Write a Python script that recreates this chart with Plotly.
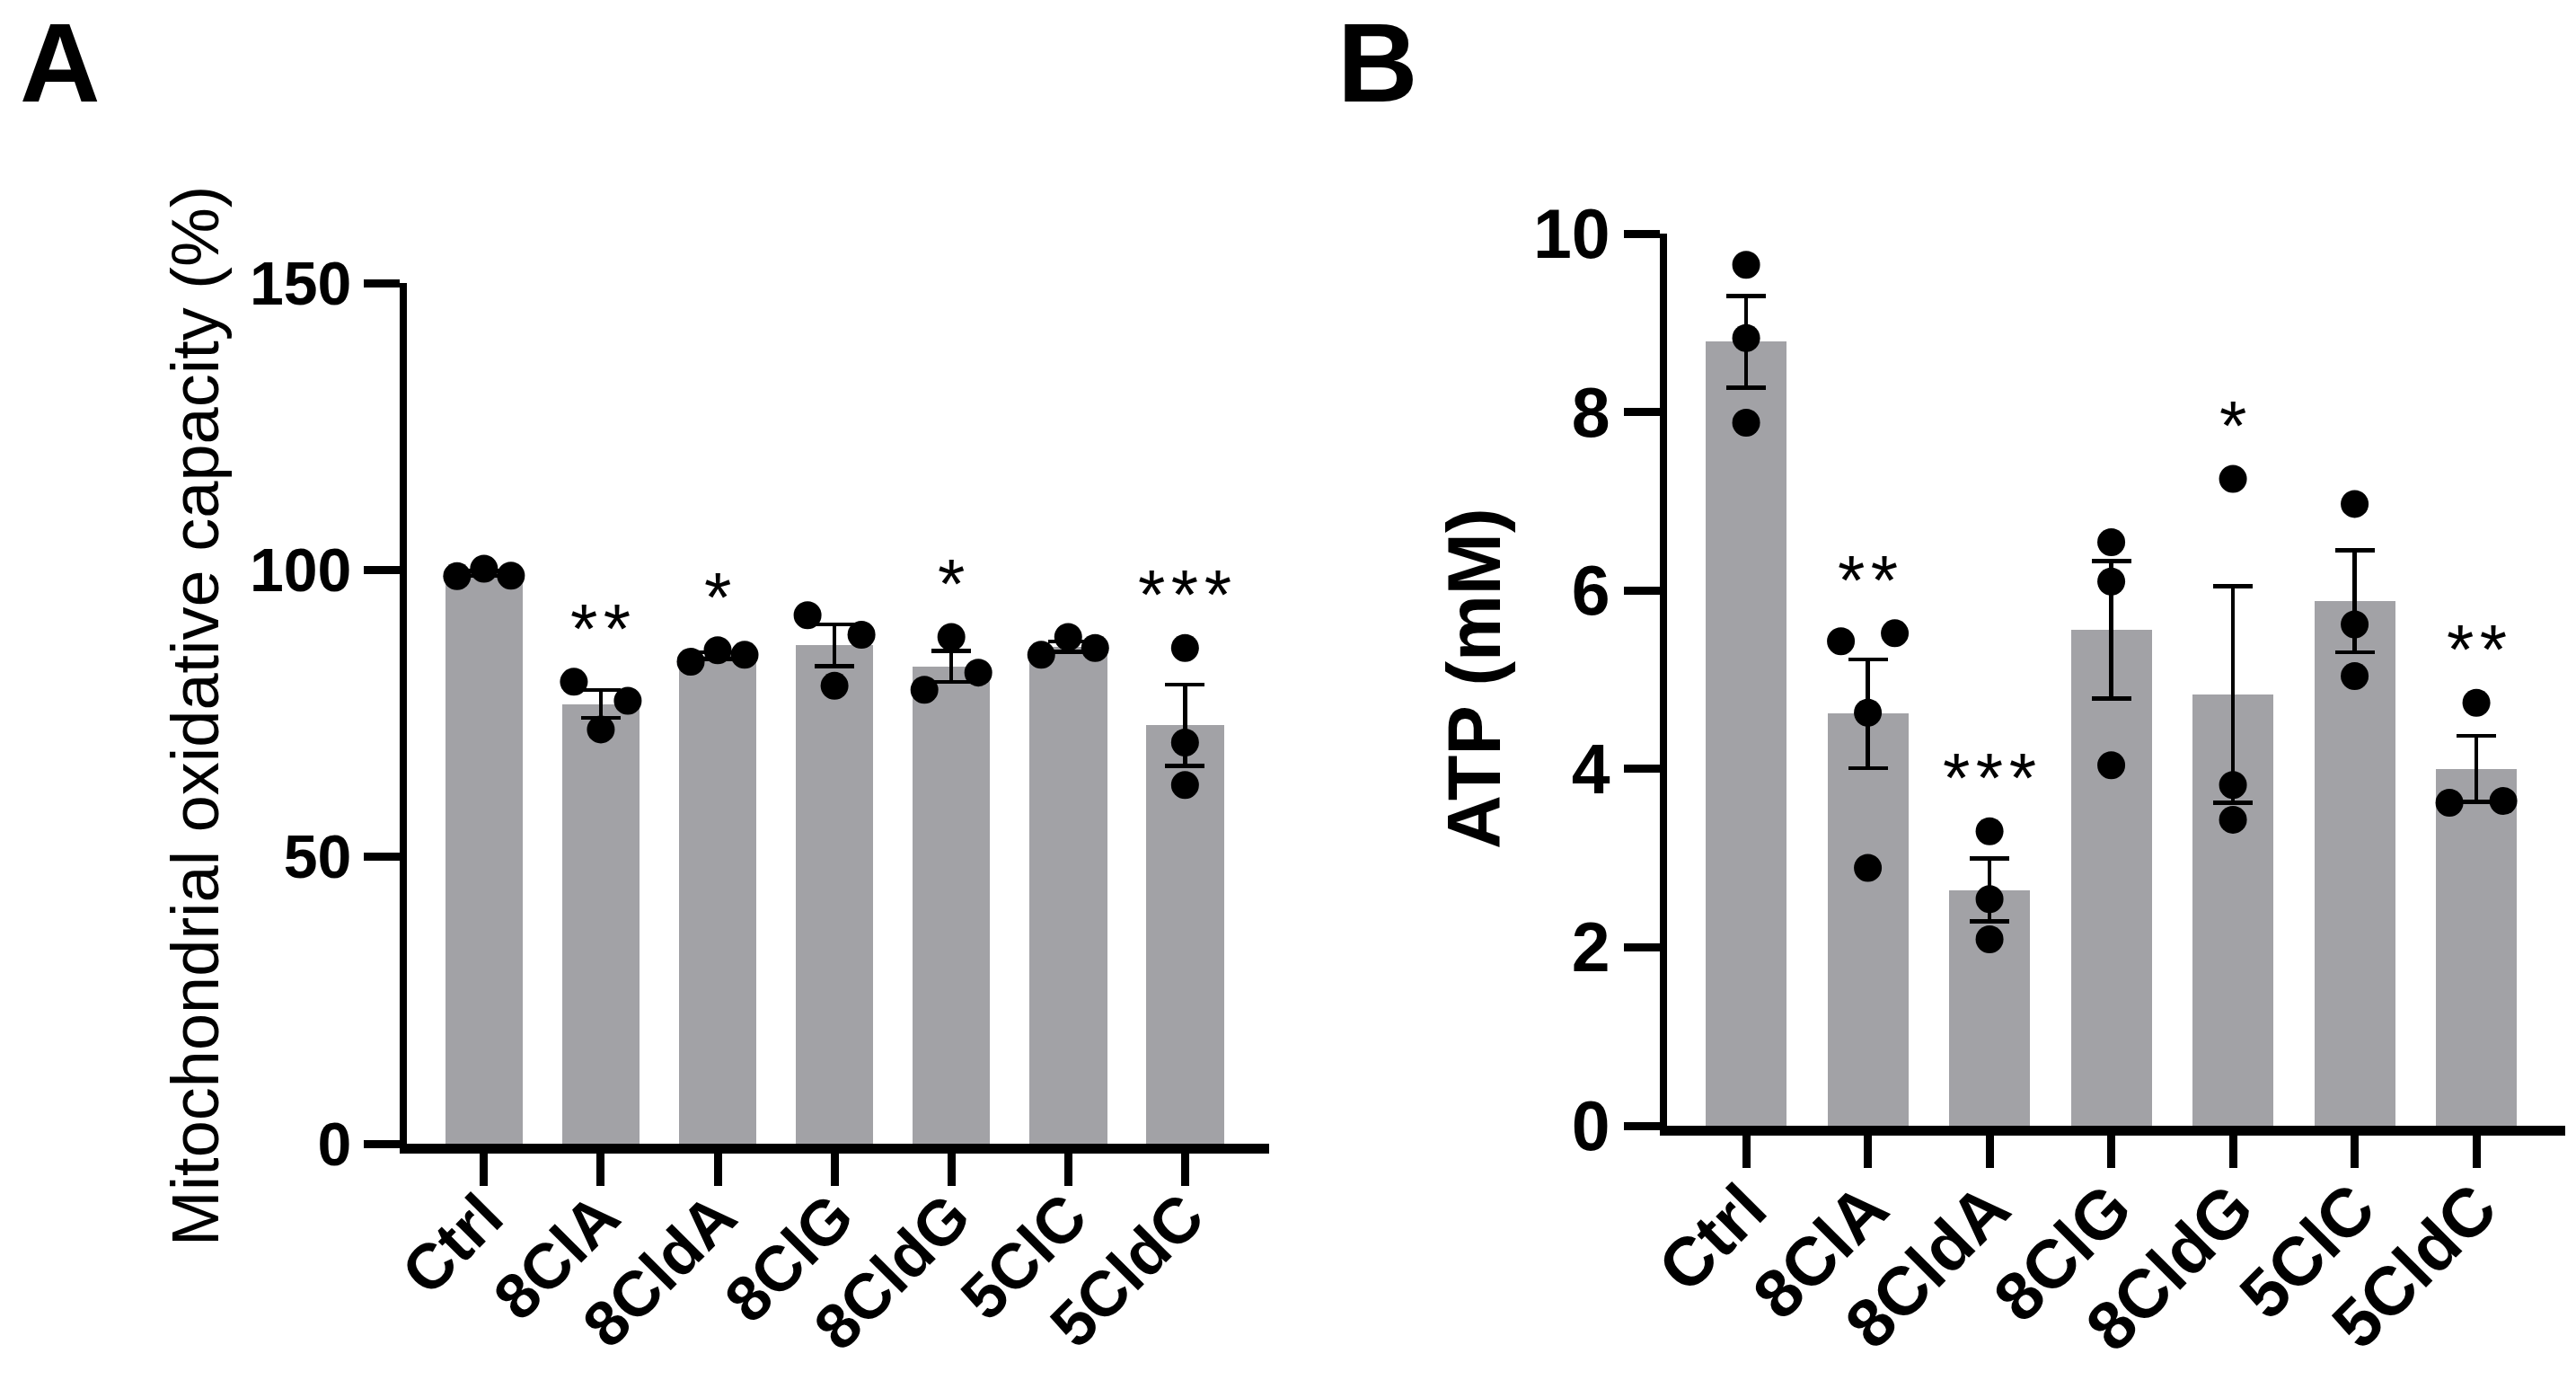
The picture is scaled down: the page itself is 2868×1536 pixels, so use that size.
import numpy as np
import plotly.graph_objects as go

# ---- data ----
groups = ["Ctrl", "8ClA", "8CldA", "8ClG", "8CldG", "5ClC", "5CldC"]

# A: mitochondrial oxidative capacity (%), replicate values per group
ox_points = [
    [98.9, 100.2, 99.0],
    [80.5, 77.2, 72.2],
    [84.0, 86.0, 85.2],
    [92.1, 88.7, 79.8],
    [88.3, 79.1, 82.1],
    [85.2, 88.3, 86.4],
    [86.4, 69.9, 62.5],
]
ox_sig = ["", "**", "*", "", "*", "", "***"]

# B: ATP (mM)
atp_points = [
    [9.65, 8.83, 7.88],
    [5.43, 5.52, 4.63, 2.89],
    [3.30, 2.54, 2.09],
    [6.54, 6.10, 4.04],
    [7.25, 3.82, 3.43],
    [6.97, 5.62, 5.04],
    [4.74, 3.62, 3.64],
]
atp_sig = ["", "**", "***", "", "*", "", "**"]

ox_ticks = [0, 50, 100, 150]
atp_ticks = [0, 2, 4, 6, 8, 10]

# ---- page geometry (px in the 2868x1536 window) ----
W, H = 2868, 1536
FONT = "Liberation Sans, Arial, sans-serif"
GRAY = "#a2a2a6"
DOT = 31  # marker diameter px


def fx(px):
    return px / W


def fy(py):
    return 1 - py / H


def sem(v):
    v = np.asarray(v, dtype=float)
    return v.std(ddof=1) / np.sqrt(len(v))


def swarm(vals, thr, d):
    # prism-like column scatter: points closer than one dot go side by side
    order = sorted(range(len(vals)), key=lambda i: -vals[i])
    rows = []
    for i in order:
        if rows and vals[rows[-1][0]] - vals[i] < thr:
            rows[-1].append(i)
        else:
            rows.append([i])
    off = [0.0] * len(vals)
    for r in rows:
        r = sorted(r)
        n = len(r)
        step = d if n % 2 else 2 * d
        for k, i in enumerate(r):
            off[i] = (k - (n - 1) / 2) * step
    return off


fig = go.Figure()

panels = [
    dict(pts=ox_points, sig=ox_sig, ticks=ox_ticks, xa="x", ya="y",
         xpx=(453, 1413), ypx=(315, 1273), xr=(-0.66, 6.72), yr=(0, 150),
         tsize=68, xsize=71, xstand=-36,
         title="Mitochondrial oxidative capacity (%)", tfont=74,
         tweight="normal", tpos=(217, 797), letter="A", lx=21),
    dict(pts=atp_points, sig=atp_sig, ticks=atp_ticks, xa="x2", ya="y2",
         xpx=(1856, 2856), ypx=(260, 1253), xr=(-0.65, 6.73), yr=(0, 10),
         tsize=77, xsize=76, xstand=-30,
         title="ATP (mM)", tfont=83,
         tweight="bold", tpos=(1642, 755), letter="B", lx=1488),
]

annotations = []
for k, p in enumerate(panels):
    means = [float(np.mean(v)) for v in p["pts"]]
    sems = [float(sem(v)) for v in p["pts"]]
    px_per_x = (p["xpx"][1] - p["xpx"][0]) / (p["xr"][1] - p["xr"][0])
    px_per_y = (p["ypx"][1] - p["ypx"][0]) / (p["yr"][1] - p["yr"][0])

    fig.add_trace(go.Bar(
        x=list(range(len(groups))), y=means, width=0.665,
        marker=dict(color=GRAY, line=dict(width=0)),
        error_y=dict(type="data", array=sems, color="black", thickness=4.5, width=22),
        xaxis=p["xa"], yaxis=p["ya"], showlegend=False,
    ))

    xs, ys = [], []
    for i, vals in enumerate(p["pts"]):
        offs = swarm(vals, DOT / px_per_y, 30 / px_per_x)
        xs += [i + o for o in offs]
        ys += vals
    fig.add_trace(go.Scatter(
        x=xs, y=ys, mode="markers",
        marker=dict(size=DOT, color="black", line=dict(width=0)),
        cliponaxis=False, xaxis=p["xa"], yaxis=p["ya"], showlegend=False,
    ))

    for i, s in enumerate(p["sig"]):
        if not s:
            continue
        annotations.append(dict(
            x=i, y=max(p["pts"][i]), xref=p["xa"], yref=p["ya"],
            text="\u200a".join(s), showarrow=False, yanchor="middle", yshift=59,
            font=dict(family=FONT, size=78, color="black"),
        ))

    annotations.append(dict(
        x=fx(p["tpos"][0]), y=fy(p["tpos"][1]), xref="paper", yref="paper",
        text=p["title"], textangle=-90, showarrow=False,
        xanchor="center", yanchor="middle",
        font=dict(family=FONT, size=p["tfont"], color="black", weight=p["tweight"]),
    ))
    # panel letter, box pinned to the top edge of the page
    annotations.append(dict(
        x=fx(p["lx"]), y=1, xref="paper", yref="paper",
        text=p["letter"], showarrow=False, xanchor="left", yanchor="top",
        borderpad=0,
        font=dict(family=FONT, size=124, color="black", weight="bold"),
    ))

    sfx = "" if k == 0 else "2"
    yf = dict(family=FONT, size=p["tsize"], color="black", weight="bold")
    xf = dict(family=FONT, size=p["xsize"], color="black", weight="bold")
    fig.update_layout(**{
        "xaxis" + sfx: dict(
            domain=[fx(p["xpx"][0]), fx(p["xpx"][1])], range=list(p["xr"]),
            anchor=p["ya"], tickmode="array", tickvals=list(range(len(groups))),
            ticktext=groups, tickangle=-45, ticks="outside", ticklen=36,
            tickwidth=9, tickcolor="black", showline=True, linewidth=11,
            linecolor="black", showgrid=False, zeroline=False, tickfont=xf,
            ticklabelstandoff=p["xstand"], automargin=False, fixedrange=True,
        ),
        "yaxis" + sfx: dict(
            domain=[fy(p["ypx"][1]), fy(p["ypx"][0])], range=list(p["yr"]),
            anchor=p["xa"], tickmode="array", tickvals=p["ticks"],
            ticks="outside", ticklen=40, tickwidth=9, tickcolor="black",
            showline=True, linewidth=8, linecolor="black", showgrid=False,
            zeroline=False, tickfont=yf, automargin=False, fixedrange=True,
        ),
    })

fig.update_layout(
    template="none",
    width=W, height=H, autosize=False,
    margin=dict(l=0, r=0, t=0, b=0, pad=0),
    paper_bgcolor="white", plot_bgcolor="white",
    annotations=annotations, bargap=0,
)

# drop the browser's default body margin so the figure fills the window
fig.write_html(
    "out.html",
    config={"displayModeBar": False},
    post_script="document.body.style.margin='0';document.body.style.overflow='hidden';",
)
